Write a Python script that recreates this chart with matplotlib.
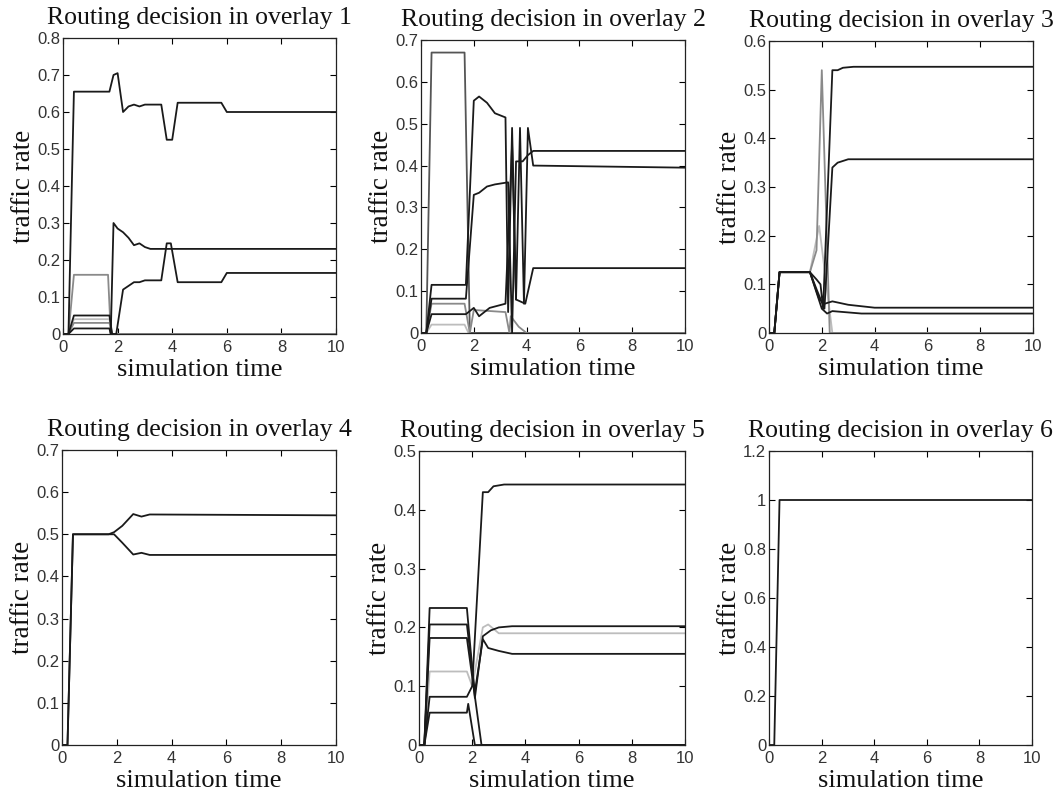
import matplotlib
matplotlib.use("Agg")
import matplotlib.pyplot as plt

# ---- overlay 1 ----
o1_t_a = [0, 0.2, 0.4, 1.7, 1.85, 2.0, 2.2, 2.4, 2.6, 2.8, 3.0, 3.6, 3.8, 4.0, 4.2, 5.8, 6.0, 10]
o1_v_a = [0, 0, 0.655, 0.655, 0.70, 0.705, 0.60, 0.615, 0.62, 0.615, 0.62, 0.62, 0.525, 0.525, 0.625, 0.625, 0.60, 0.60]
o1_t_b = [0, 0.2, 0.4, 1.65, 1.75, 10]
o1_v_b = [0, 0, 0.16, 0.16, 0.0, 0.0]
o1_t_c = [0, 0.2, 0.4, 1.7, 1.8, 1.95, 2.2, 2.4, 2.6, 2.8, 3.0, 3.6, 3.8, 3.95, 4.2, 5.8, 6.0, 10]
o1_v_c = [0, 0, 0.05, 0.05, 0, 0, 0.12, 0.13, 0.14, 0.14, 0.145, 0.145, 0.245, 0.245, 0.14, 0.14, 0.165, 0.165]
o1_t_d = [0, 0.2, 0.4, 1.7, 1.8, 10]
o1_v_d = [0, 0, 0.03, 0.03, 0, 0]
o1_t_e = [0, 0.2, 0.4, 1.7, 1.75, 1.85, 2.0, 2.2, 2.4, 2.6, 2.8, 3.0, 3.2, 10]
o1_v_e = [0, 0, 0.015, 0.015, 0.0, 0.30, 0.285, 0.275, 0.26, 0.24, 0.245, 0.235, 0.23, 0.23]
o1_t_f = [0, 0.2, 0.4, 1.7, 1.8, 10]
o1_v_f = [0, 0, 0.04, 0.04, 0, 0]

# ---- overlay 2 ----
o2_t_a = [0, 0.2, 0.4, 1.65, 1.85, 10]
o2_v_a = [0, 0, 0.67, 0.67, 0, 0]
o2_t_b = [0, 0.2, 0.4, 1.7, 2.0, 2.2, 2.5, 2.8, 3.2, 3.3, 3.45, 3.6, 3.75, 3.9, 4.05, 4.25, 10]
o2_v_b = [0, 0, 0.115, 0.115, 0.555, 0.565, 0.55, 0.525, 0.515, 0.05, 0.49, 0.08, 0.49, 0.07, 0.49, 0.40, 0.395]
o2_t_c = [0, 0.2, 0.4, 1.7, 2.0, 2.2, 2.5, 2.8, 3.3, 3.45, 3.6, 3.85, 4.05, 4.25, 10]
o2_v_c = [0, 0, 0.082, 0.082, 0.33, 0.335, 0.35, 0.355, 0.36, 0.0, 0.41, 0.41, 0.425, 0.435, 0.435]
o2_t_d = [0, 0.2, 0.4, 1.7, 2.0, 2.2, 2.6, 3.2, 3.45, 3.6, 3.95, 4.25, 10]
o2_v_d = [0, 0, 0.045, 0.045, 0.06, 0.04, 0.06, 0.07, 0.45, 0.08, 0.07, 0.155, 0.155]
o2_t_e = [0, 0.2, 0.4, 1.65, 1.85, 2.0, 3.2, 3.35, 3.4, 3.7, 4.0, 10]
o2_v_e = [0, 0, 0.07, 0.07, 0, 0.055, 0.05, 0, 0.04, 0.015, 0, 0]
o2_t_f = [0, 0.2, 0.4, 1.65, 1.8, 10]
o2_v_f = [0, 0, 0.02, 0.02, 0, 0]

# ---- overlay 3 ----
o3_t_a = [0, 0.2, 0.4, 1.55, 1.8, 1.95, 2.05, 2.4, 2.6, 2.8, 3.2, 10]
o3_v_a = [0, 0, 0.125, 0.125, 0.11, 0.10, 0.05, 0.54, 0.54, 0.545, 0.547, 0.547]
o3_t_b = [0, 0.2, 0.4, 1.55, 1.8, 2.1, 2.4, 2.6, 3.0, 10]
o3_v_b = [0, 0, 0.125, 0.125, 0.09, 0.05, 0.34, 0.35, 0.357, 0.357]
o3_t_c = [0, 0.2, 0.4, 1.55, 1.9, 2.1, 2.4, 3.0, 4.0, 10]
o3_v_c = [0, 0, 0.125, 0.125, 0.07, 0.06, 0.065, 0.058, 0.052, 0.052]
o3_t_d = [0, 0.2, 0.4, 1.55, 2.0, 2.2, 2.4, 3.5, 10]
o3_v_d = [0, 0, 0.125, 0.125, 0.05, 0.04, 0.045, 0.04, 0.04]
o3_t_e = [0, 0.2, 0.4, 1.55, 1.8, 2.0, 2.3, 10]
o3_v_e = [0, 0, 0.125, 0.125, 0.17, 0.54, 0, 0]
o3_t_f = [0, 0.2, 0.4, 1.55, 1.9, 2.4, 10]
o3_v_f = [0, 0, 0.125, 0.125, 0.22, 0, 0]

# ---- overlay 4 ----
o4_t_a = [0, 0.2, 0.4, 1.7, 1.9, 2.2, 2.6, 2.9, 3.2, 10]
o4_v_a = [0, 0, 0.5, 0.5, 0.505, 0.52, 0.548, 0.542, 0.547, 0.545]
o4_t_b = [0, 0.2, 0.4, 1.7, 1.9, 2.2, 2.6, 2.9, 3.2, 10]
o4_v_b = [0, 0, 0.5, 0.5, 0.50, 0.48, 0.452, 0.456, 0.451, 0.451]

# ---- overlay 5 ----
o5_t_a = [0, 0.2, 0.4, 1.8, 2.0, 2.4, 2.6, 2.8, 3.2, 10]
o5_v_a = [0, 0, 0.082, 0.082, 0.10, 0.43, 0.43, 0.44, 0.443, 0.443]
o5_t_b = [0, 0.2, 0.4, 1.8, 2.1, 2.4, 2.7, 3.0, 3.5, 10]
o5_v_b = [0, 0, 0.233, 0.233, 0.08, 0.185, 0.195, 0.20, 0.202, 0.202]
o5_t_c = [0, 0.2, 0.4, 1.8, 2.1, 2.4, 2.6, 3.0, 3.5, 10]
o5_v_c = [0, 0, 0.205, 0.205, 0.09, 0.18, 0.165, 0.16, 0.155, 0.155]
o5_t_d = [0, 0.2, 0.4, 1.8, 2.0, 2.4, 2.6, 3.0, 10]
o5_v_d = [0, 0, 0.125, 0.125, 0.10, 0.20, 0.205, 0.19, 0.19]
o5_t_e = [0, 0.2, 0.4, 1.8, 2.35, 10]
o5_v_e = [0, 0, 0.182, 0.182, 0, 0]
o5_t_f = [0, 0.2, 0.4, 1.8, 1.85, 2.1, 10]
o5_v_f = [0, 0, 0.055, 0.055, 0.07, 0, 0]

# ---- overlay 6 ----
o6_t_a = [0, 0.2, 0.4, 10]
o6_v_a = [0, 0, 1.0, 1.0]

BLACK = "#1a1a1a"
GRAY = "#8a8a8a"
LIGHT = "#bdbdbd"

W, H = 1059, 796
# axes boxes in pixels: left, top, right, bottom
boxes = [
    (63, 38, 336, 334),
    (421, 40, 685, 333),
    (769, 41, 1033, 333),
    (62, 450, 336, 745),
    (419, 451, 685, 745),
    (769, 451, 1032, 745),
]
ylims = [0.8, 0.7, 0.6, 0.7, 0.5, 1.2]
yticks = [
    [0, 0.1, 0.2, 0.3, 0.4, 0.5, 0.6, 0.7, 0.8],
    [0, 0.1, 0.2, 0.3, 0.4, 0.5, 0.6, 0.7],
    [0, 0.1, 0.2, 0.3, 0.4, 0.5, 0.6],
    [0, 0.1, 0.2, 0.3, 0.4, 0.5, 0.6, 0.7],
    [0, 0.1, 0.2, 0.3, 0.4, 0.5],
    [0, 0.2, 0.4, 0.6, 0.8, 1, 1.2],
]
lines = [
    [(o1_t_f, o1_v_f, LIGHT), (o1_t_d, o1_v_d, GRAY), (o1_t_b, o1_v_b, GRAY),
     (o1_t_e, o1_v_e, BLACK), (o1_t_c, o1_v_c, BLACK), (o1_t_a, o1_v_a, BLACK)],
    [(o2_t_f, o2_v_f, LIGHT), (o2_t_a, o2_v_a, "#555555"), (o2_t_e, o2_v_e, GRAY),
     (o2_t_d, o2_v_d, BLACK), (o2_t_c, o2_v_c, BLACK), (o2_t_b, o2_v_b, BLACK)],
    [(o3_t_f, o3_v_f, LIGHT), (o3_t_e, o3_v_e, GRAY), (o3_t_d, o3_v_d, BLACK),
     (o3_t_c, o3_v_c, BLACK), (o3_t_b, o3_v_b, BLACK), (o3_t_a, o3_v_a, BLACK)],
    [(o4_t_b, o4_v_b, BLACK), (o4_t_a, o4_v_a, BLACK)],
    [(o5_t_d, o5_v_d, LIGHT), (o5_t_e, o5_v_e, BLACK), (o5_t_f, o5_v_f, BLACK),
     (o5_t_c, o5_v_c, BLACK), (o5_t_b, o5_v_b, BLACK), (o5_t_a, o5_v_a, BLACK)],
    [(o6_t_a, o6_v_a, BLACK)],
]

serif = ["Liberation Serif", "DejaVu Serif"]
sans = ["Liberation Sans", "DejaVu Sans"]

fig = plt.figure(figsize=(W / 100, H / 100), dpi=100)

for i in range(6):
    l, t, r, b = boxes[i]
    ax = fig.add_axes([l / W, 1 - b / H, (r - l) / W, (b - t) / H])
    for xs, ys, col in lines[i]:
        ax.plot(xs, ys, color=col, lw=1.3)
    ax.set_xlim(0, 10)
    ax.set_ylim(0, ylims[i])
    ax.set_xticks([0, 2, 4, 6, 8, 10])
    ax.set_yticks(yticks[i])
    ax.set_yticklabels([("%g" % v) for v in yticks[i]])
    ax.tick_params(direction="in", top=True, right=True, length=4, width=0.8,
                   labelsize=12)
    ax.tick_params(axis="x", pad=4)
    ax.tick_params(axis="y", pad=2)
    for lab in ax.get_xticklabels() + ax.get_yticklabels():
        lab.set_family(sans)
        lab.set_color("#333333")
    for s in ax.spines.values():
        s.set_linewidth(0.9)
        s.set_color("#222222")
    ax.set_title("Routing decision in overlay %d" % (i + 1), family=serif,
                 fontsize=18.5, pad=10, color="#111111")
    ax.set_xlabel("simulation time", family=serif, fontsize=19, labelpad=3,
                  color="#111111")
    ax.set_ylabel("traffic rate", family=serif, fontsize=19.5, labelpad=1,
                  color="#111111")

fig.savefig("out.png", dpi=100)
